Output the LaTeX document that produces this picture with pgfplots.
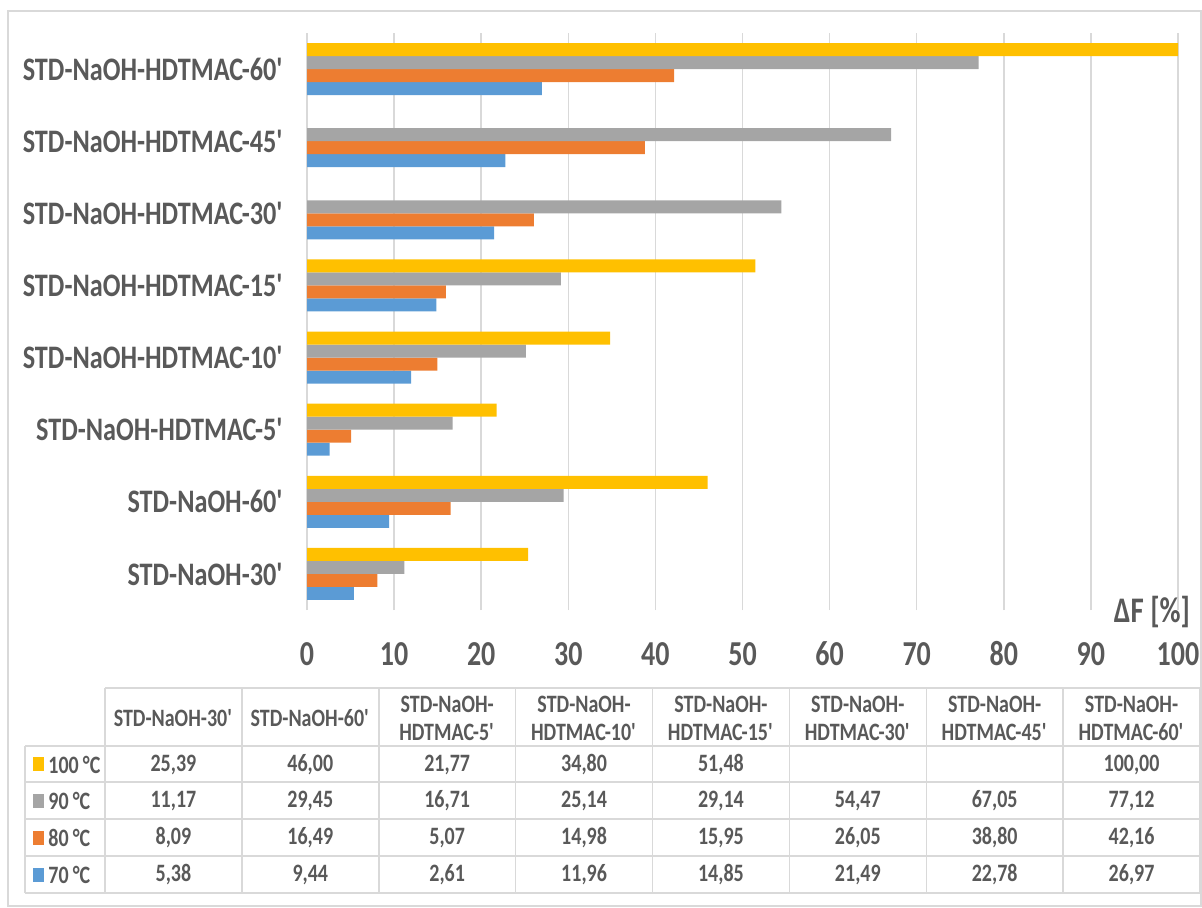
\documentclass[border=0pt]{standalone}
\usepackage{fontspec}
\setmainfont{Carlito}[FakeStretch=0.8]
\usepackage{pgfplots}
\pgfplotsset{compat=1.18}
\definecolor{cY}{HTML}{FFC000}
\definecolor{cG}{HTML}{A5A5A5}
\definecolor{cO}{HTML}{ED7D31}
\definecolor{cB}{HTML}{5B9BD5}
\definecolor{tg}{HTML}{595959}
\definecolor{lg}{HTML}{D9D9D9}
\newcommand{\q}{\textquotesingle}
\begin{document}
\begin{tikzpicture}
\begin{scope}[x=0.5pt,y=-0.5pt]
\path[use as bounding box] (0,0) rectangle (1202,908);
\draw[lg, line width=0.75pt] (8,11) rectangle (1201,906);
\end{scope}
\begin{axis}[at={(153.5pt,-305pt)}, anchor=south west, scale only axis,
  width=435.5pt, height=288.5pt,
  xmin=0, xmax=100, ymin=-0.5, ymax=7.5,
  xbar, bar width=0.18,
  axis line style={draw=none}, tick style={draw=none},
  xmajorgrids, grid style={lg, line width=0.75pt},
  xtick={0,10,...,100}, ytick={0,...,7},
  yticklabels={{STD-NaOH-30\q},{STD-NaOH-60\q},{STD-NaOH-HDTMAC-5\q},{STD-NaOH-HDTMAC-10\q},{STD-NaOH-HDTMAC-15\q},{STD-NaOH-HDTMAC-30\q},{STD-NaOH-HDTMAC-45\q},{STD-NaOH-HDTMAC-60\q}},
  /pgf/number format/assume math mode=true,
  xticklabel style={font=\bfseries\fontsize{17.5}{17.5}\selectfont, text=tg, anchor=center, inner sep=0pt, yshift=-22pt},
  yticklabel style={font=\bfseries\fontsize{16.4}{16.4}\selectfont, text=tg, anchor=east, inner sep=0pt, xshift=-7pt},
  clip=false]
\addplot[fill=cB, draw=none, bar shift=-0.27] coordinates {(5.38,0) (9.44,1) (2.61,2) (11.96,3) (14.85,4) (21.49,5) (22.78,6) (26.97,7)};
\addplot[fill=cO, draw=none, bar shift=-0.09] coordinates {(8.09,0) (16.49,1) (5.07,2) (14.98,3) (15.95,4) (26.05,5) (38.80,6) (42.16,7)};
\addplot[fill=cG, draw=none, bar shift=0.09] coordinates {(11.17,0) (29.45,1) (16.71,2) (25.14,3) (29.14,4) (54.47,5) (67.05,6) (77.12,7)};
\addplot[fill=cY, draw=none, bar shift=0.27] coordinates {(25.39,0) (46.00,1) (21.77,2) (34.80,3) (51.48,4) (100.00,7)};
\end{axis}
\begin{scope}[x=0.5pt,y=-0.5pt]
\node[font=\bfseries\fontsize{18}{18}\selectfont, text=tg, inner sep=0pt] at (1152,612) {ΔF [\%]};
% table grid
\begin{scope}[lg, line width=0.75pt]
\draw (105,688) -- (1200,688);
\foreach \yy in {746,782,819,856,893} \draw (25,\yy) -- (1200,\yy);
\draw (25,746) -- (25,893);
\foreach \xx in {105,241.875,378.75,515.625,652.5,789.375,926.25,1063.125,1200} \draw (\xx,688) -- (\xx,893);
\end{scope}
\begin{scope}[every node/.style={font=\bfseries\fontsize{12.5}{14}\selectfont, text=tg, inner sep=0pt, align=center}]
\foreach \t [count=\i from 0] in {{STD-NaOH-30\q},{STD-NaOH-60\q},{STD-NaOH-\\HDTMAC-5\q},{STD-NaOH-\\HDTMAC-10\q},{STD-NaOH-\\HDTMAC-15\q},{STD-NaOH-\\HDTMAC-30\q},{STD-NaOH-\\HDTMAC-45\q},{STD-NaOH-\\HDTMAC-60\q}}
  \node at ({105+136.875*(\i+0.5)},718) {\t};
\foreach \v [count=\i from 0] in {{25,39},{46,00},{21,77},{34,80},{51,48},{},{},{100,00}}
  \node at ({105+136.875*(\i+0.5)},764.5) {\v};
\foreach \v [count=\i from 0] in {{11,17},{29,45},{16,71},{25,14},{29,14},{54,47},{67,05},{77,12}}
  \node at ({105+136.875*(\i+0.5)},801) {\v};
\foreach \v [count=\i from 0] in {{8,09},{16,49},{5,07},{14,98},{15,95},{26,05},{38,80},{42,16}}
  \node at ({105+136.875*(\i+0.5)},838) {\v};
\foreach \v [count=\i from 0] in {{5,38},{9,44},{2,61},{11,96},{14,85},{21,49},{22,78},{26,97}}
  \node at ({105+136.875*(\i+0.5)},875) {\v};
\fill[cY] (33,757) rectangle (44,771);
\fill[cG] (33,794) rectangle (44,808);
\fill[cO] (33,831) rectangle (44,845);
\fill[cB] (33,868) rectangle (44,882);
\node[anchor=west] at (48,764.5) {100\,°C};
\node[anchor=west] at (48,801) {90\,°C};
\node[anchor=west] at (48,838) {80\,°C};
\node[anchor=west] at (48,875) {70\,°C};
\end{scope}
\end{scope}
\end{tikzpicture}
\end{document}
